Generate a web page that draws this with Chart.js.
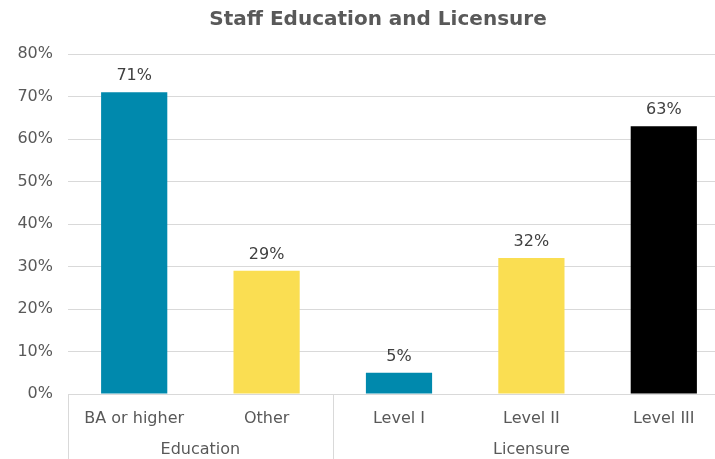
<!DOCTYPE html>
<html lang="en">
<head>
    <meta charset="UTF-8">
    <title>Staff Education and Licensure</title>
    <style>
        html, body { margin: 0; padding: 0; background: #fff; overflow: hidden; }
        canvas { display: block; }
    </style>
</head>
<body>
    <canvas id="monGraphe" width="756" height="459"></canvas>

    <script src="https://cdn.jsdelivr.net/npm/chart.js"></script>
    <script>
    // donnees du graphique
    const categories = ['BA or higher', 'Other', 'Level I', 'Level II', 'Level III'];
    const groups = ['Education', 'Licensure'];
    const groupSizes = [2, 3];
    const values = [71, 29, 5, 32, 63];
    const barColors = ['#0089AD', '#FADE52', '#0089AD', '#FADE52', '#000000'];
    const titleText = 'Staff Education and Licensure';

    const fontFam = '"DejaVu Sans", Verdana, sans-serif';
    const gridColor = '#d9d9d9';

    // titre, etiquettes de valeur au-dessus des barres + axe a deux niveaux
    const extras = {
        id: 'extras',
        afterDatasetsDraw(chart) {
            const ctx = chart.ctx;
            const meta = chart.getDatasetMeta(0);
            ctx.save();
            ctx.font = '16px ' + fontFam;
            ctx.fillStyle = '#404040';
            ctx.textAlign = 'center';
            ctx.textBaseline = 'middle';
            meta.data.forEach((bar, i) => {
                ctx.fillText(values[i] + '%', bar.x, bar.y - 16);
            });
            ctx.restore();
        },
        afterDraw(chart) {
            const ctx = chart.ctx;
            const x = chart.scales.x;
            const area = chart.chartArea;
            const half = (x.getPixelForValue(1) - x.getPixelForValue(0)) / 2;
            ctx.save();
            // titre centre sur toute la largeur du graphique
            ctx.font = 'bold 20px ' + fontFam;
            ctx.fillStyle = '#595959';
            ctx.textAlign = 'center';
            ctx.textBaseline = 'middle';
            ctx.fillText(titleText, chart.width / 2, 20);

            ctx.strokeStyle = gridColor;
            ctx.lineWidth = 1;
            ctx.font = '16px ' + fontFam;
            let start = 0;
            groups.forEach((g, k) => {
                const end = start + groupSizes[k] - 1;
                const left = x.getPixelForValue(start) - half;
                const right = x.getPixelForValue(end) + half;
                ctx.beginPath();
                ctx.moveTo(Math.round(left) + 0.5, area.bottom);
                ctx.lineTo(Math.round(left) + 0.5, chart.height);
                ctx.moveTo(Math.round(right) + 0.5, area.bottom);
                ctx.lineTo(Math.round(right) + 0.5, chart.height);
                ctx.stroke();
                ctx.fillText(g, (left + right) / 2, area.bottom + 56);
                start = end + 1;
            });
            ctx.restore();
        }
    };

    new Chart(document.getElementById('monGraphe').getContext('2d'), {
        type: 'bar',
        data: {
            labels: categories,
            datasets: [{
                data: values,
                backgroundColor: barColors,
                borderWidth: 0,
                barPercentage: 0.5,
                categoryPercentage: 1
            }]
        },
        options: {
            responsive: false,
            animation: false,
            devicePixelRatio: 1,
            layout: { padding: { left: 0, right: 26, top: 54, bottom: 0 } },
            plugins: {
                legend: { display: false },
                tooltip: { enabled: false },
                title: { display: false }
            },
            scales: {
                x: {
                    grid: { display: false },
                    border: { display: false },
                    ticks: {
                        color: '#595959',
                        font: { family: fontFam, size: 16 },
                        padding: 7,
                        maxRotation: 0,
                        autoSkip: false
                    },
                    afterFit(s) { s.height = 65; }
                },
                y: {
                    min: 0,
                    max: 80,
                    grid: { color: gridColor, lineWidth: 1, drawTicks: false },
                    border: { display: false },
                    ticks: {
                        stepSize: 10,
                        color: '#595959',
                        font: { family: fontFam, size: 16 },
                        padding: 15,
                        callback: v => v + '%'
                    },
                    afterFit(s) { s.width = 68; }
                }
            }
        },
        plugins: [extras]
    });
    </script>
</body>
</html>
